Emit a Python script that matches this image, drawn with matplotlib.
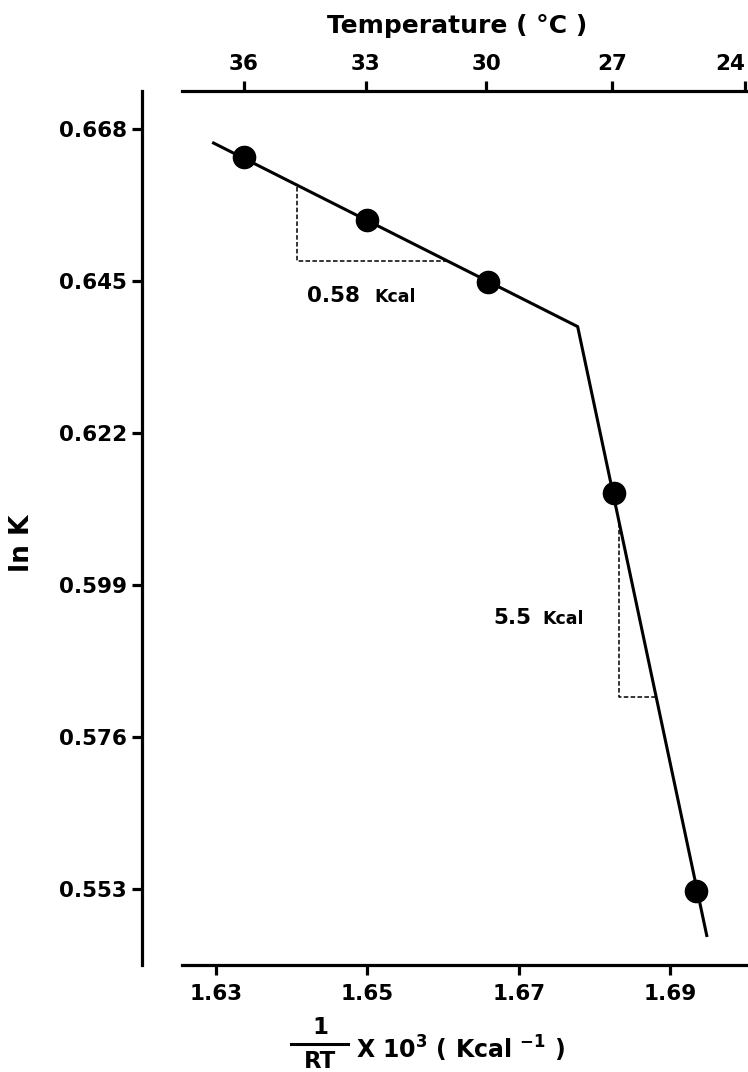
import matplotlib
matplotlib.use("Agg")
import matplotlib.pyplot as plt
from matplotlib.lines import Line2D

# ---- data ----
x_points = [1.6337, 1.6500, 1.6659, 1.6826, 1.6934]
y_points = [0.6638, 0.6542, 0.6449, 0.6129, 0.5527]

fit_x = [1.6295, 1.6778, 1.6949]
fit_y = [0.6660, 0.6381, 0.5457]

tri1_x = [1.6407, 1.6407, 1.6605]
tri1_y = [0.6593, 0.6480, 0.6480]
tri2_x = [1.6833, 1.6833, 1.6882]
tri2_y = [0.6083, 0.5820, 0.5820]

x_ticks = [1.63, 1.65, 1.67, 1.69]
x_ticklabels = ["1.63", "1.65", "1.67", "1.69"]
y_ticks = [0.553, 0.576, 0.599, 0.622, 0.645, 0.668]
y_ticklabels = ["0.553", "0.576", "0.599", "0.622", "0.645", "0.668"]
temp_tick_pos = [1.6337, 1.6498, 1.6657, 1.6823, 1.6999]
temp_ticklabels = ["36", "33", "30", "27", "24"]

ann1_label, ann1_unit = "0.58", "Kcal"
ann2_label, ann2_unit = "5.5", "Kcal"

# ---- style ----
FONT = "DejaVu Sans"
plt.rcParams["font.family"] = [FONT]
plt.rcParams["font.weight"] = "bold"
plt.rcParams["mathtext.fontset"] = "custom"
plt.rcParams["mathtext.rm"] = "DejaVu Sans:bold"
plt.rcParams["mathtext.bf"] = "DejaVu Sans:bold"
plt.rcParams["mathtext.it"] = "DejaVu Sans:bold"
plt.rcParams["mathtext.sf"] = "DejaVu Sans:bold"

W, H = 748, 1072
fig = plt.figure(figsize=(W / 100, H / 100), dpi=100)
ax = fig.add_axes([182 / W, 1 - 965 / H, 566 / W, (965 - 91) / H])
ax.set_xlim(1.62551, 1.70031)
ax.set_ylim(0.54146, 0.67377)

SPW = 2.3
for s in ["top", "right"]:
    ax.spines[s].set_visible(False)
ax.spines["left"].set_position(("outward", 29))
ax.spines["left"].set_linewidth(SPW)
ax.spines["bottom"].set_linewidth(SPW)

ax.set_xticks(x_ticks)
ax.set_xticklabels(x_ticklabels)
ax.set_yticks(y_ticks)
ax.set_yticklabels(y_ticklabels)
ax.tick_params(axis="both", direction="out", length=7.5, width=2.3,
               labelsize=15.5)
ax.tick_params(axis="x", pad=6)
ax.tick_params(axis="y", pad=3)

# top temperature axis
ax2 = ax.twiny()
ax2.set_xlim(ax.get_xlim())
for s in ["left", "right", "bottom"]:
    ax2.spines[s].set_visible(False)
ax2.spines["top"].set_linewidth(SPW)
ax2.set_xticks(temp_tick_pos)
ax2.set_xticklabels(temp_ticklabels)
ax2.tick_params(axis="x", direction="out", length=7.5, width=2.3,
                labelsize=15.5, pad=5)
ax2.get_xticklabels()[-1].set_horizontalalignment("right")

# fit lines, points, slope triangles
ax.plot(fit_x, fit_y, color="black", lw=2.2, solid_capstyle="butt", zorder=2)
ax.plot(x_points, y_points, "o", color="black", ms=16, zorder=3)
ax.plot(tri1_x, tri1_y, color="black", lw=1.1, ls=(0, (3, 1.5)), zorder=1)
ax.plot(tri2_x, tri2_y, color="black", lw=1.1, ls=(0, (3, 1.5)), zorder=1)

ax.text(1.6420, 0.64187, ann1_label, fontsize=15.5, ha="left", va="baseline")
ax.text(1.6509, 0.64187, ann1_unit, fontsize=12.5, ha="left", va="baseline")
ax.text(1.6667, 0.59311, ann2_label, fontsize=15.5, ha="left", va="baseline")
ax.text(1.6732, 0.59311, ann2_unit, fontsize=12.5, ha="left", va="baseline")

# titles / labels in figure pixel coordinates
def fx(px):
    return px / W

def fy(py):
    return 1 - py / H

fig.text(fx(457), fy(26), "Temperature ( °C )", fontsize=18,
         ha="center", va="center")
fig.text(fx(22), fy(543), "ln K", fontsize=19, rotation=90,
         ha="center", va="center")

# x label with fraction 1/RT
fig.text(fx(320), fy(1028), "1", fontsize=16.5, ha="center", va="center")
fig.add_artist(Line2D([fx(291), fx(348)], [fy(1044), fy(1044)],
                      transform=fig.transFigure, color="black", lw=2.2))
fig.text(fx(320), fy(1061), "RT", fontsize=16.5, ha="center", va="center")
fig.text(fx(356), fy(1059), r"X 10$^{3}$ ( Kcal $^{-1}$ )", fontsize=17,
         ha="left", va="baseline")

fig.savefig("out.png", dpi=100)
